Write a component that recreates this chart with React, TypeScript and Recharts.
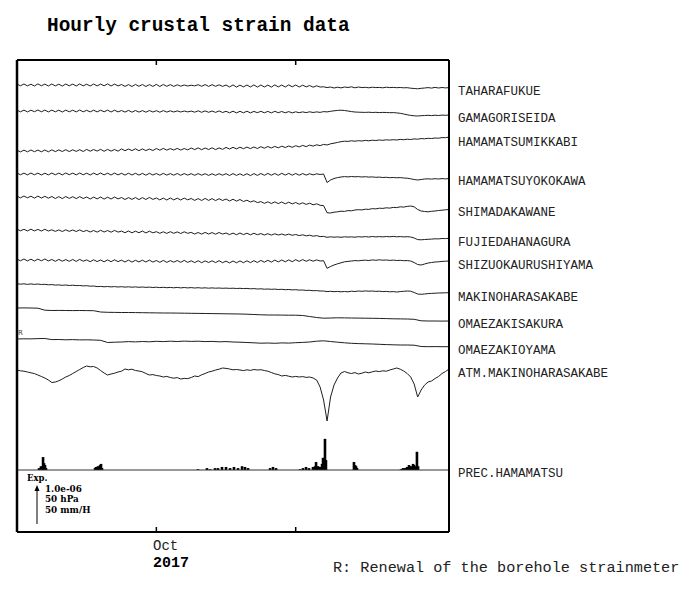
import { Bar, ComposedChart, Line, ReferenceLine, XAxis, YAxis } from "recharts";

// time axis: days since 2017-09-21 00:00 (ticks at Oct 1 and Oct 11)
const SPAN_DAYS = 31;
const TICK_DAYS = [10, 20];
const DAYS_6H = Array.from({ length: 125 }, (_, i) => i * 0.25);
const DAYS_12H = Array.from({ length: 63 }, (_, i) => i * 0.5);

const STATIONS = [
  "TAHARAFUKUE",
  "GAMAGORISEIDA",
  "HAMAMATSUMIKKABI",
  "HAMAMATSUYOKOKAWA",
  "SHIMADAKAWANE",
  "FUJIEDAHANAGURA",
  "SHIZUOKAURUSHIYAMA",
  "MAKINOHARASAKABE",
  "OMAEZAKISAKURA",
  "OMAEZAKIOYAMA",
  "ATM.MAKINOHARASAKABE",
];

// deviations (plot units, up = positive), sampled every 6 h
const taharafukue = [
  0.9, -0.8, 1.0, -0.9, 0.8, -1.0, 1.1, -0.8, 0.9, -1.0,
  1.0, -0.9, 0.8, -1.1, 1.0, -0.8, 0.9, -1.0, 1.1, -0.9,
  0.8, -1.0, 1.0, -0.9, 0.9, -0.8, 1.1, -1.0, 0.9, -0.9,
  0.5, -1.4, 0.4, -1.5, 0.6, -1.3, 0.5, -1.5, 0.4, -1.4,
  0.6, -1.5, 0.5, -1.3, 0.4, -1.4, 0.2, -1.2, 0.0, -1.0,
  -0.2, -0.9, 0.3, -1.3, 0.4, -1.4, 0.3, -1.3, 0.2, -1.4,
  0.0, -2.0, 0.1, -2.1, -0.1, -1.9, 0.0, -2.0, 0.1, -2.1,
  0.0, -2.0, -0.1, -2.1, 0.1, -1.9, 0.0, -2.0, 0.1, -1.8,
  0.0, -2.0, -0.2, -1.9, -0.5, -2.2, -0.8, -2.0, -1.8, -2.6,
  -2.0, -3.0, -2.2, -2.9, -2.0, -2.5, -1.8, -2.8, -2.0, -2.6,
  -2.3, -2.8, -2.2, -2.6, -2.4, -2.8, -2.2, -2.6, -2.4, -2.7,
  -2.5, -2.8, -2.7, -3.2, -3.5, -3.8, -3.3, -3.0, -2.6, -3.1,
  -2.4, -3.0, -2.5, -2.9, -2.6,
];
const gamagoriseida = [
  0.8, -0.8, 0.9, -0.9, 0.8, -0.7, 1.0, -0.8, 0.9, -0.9,
  0.9, -0.8, 0.8, -1.0, 0.9, -0.8, 0.8, -0.9, 1.0, -0.8,
  0.7, -0.9, 0.8, -0.9, 0.8, -0.8, 0.9, -1.0, 0.8, -0.9,
  0.5, -1.1, 0.6, -1.2, 0.5, -1.1, 0.4, -1.2, 0.5, -1.0,
  0.3, -1.2, 0.4, -1.1, 0.2, -1.0, 0.1, -1.0, 0.0, -0.9,
  -0.1, -1.2, 0.2, -1.3, 0.1, -1.3, 0.0, -1.4, 0.1, -1.5,
  -0.3, -1.8, -0.2, -1.9, -0.3, -1.8, -0.2, -1.9, -0.4, -1.7,
  -0.3, -1.8, -0.4, -1.9, -0.3, -1.7, -0.5, -1.8, -0.6, -1.9,
  -0.8, -1.7, -0.9, -1.6, -0.8, -1.5, -0.9, -1.4, -0.6, -0.9,
  -0.3, 0.2, 0.6, 0.8, 0.5, 0.0, -0.6, -1.0, -1.2, -1.3,
  -1.4, -1.2, -1.5, -1.3, -1.6, -1.4, -1.5, -1.7, -1.6, -1.9,
  -2.3, -3.0, -3.8, -4.4, -4.8, -5.0, -4.7, -4.5, -4.3, -4.6,
  -4.2, -4.5, -4.1, -4.3, -4.0,
];
const hamamatsumikkabi = [
  0.8, -0.9, 0.9, -0.8, 1.0, -0.7, 0.9, -0.8, 1.0, -0.8,
  1.2, -0.6, 1.1, -0.5, 1.3, -0.6, 1.2, -0.4, 1.3, -0.5,
  1.6, -0.2, 1.5, -0.1, 1.7, -0.3, 1.6, -0.1, 1.5, -0.2,
  2.1, 0.3, 2.0, 0.4, 2.2, 0.3, 2.1, 0.4, 2.0, 0.5,
  2.5, 0.8, 2.6, 0.9, 2.4, 1.0, 2.6, 0.9, 2.5, 1.1,
  3.0, 1.4, 3.1, 1.3, 3.0, 1.5, 3.2, 1.4, 3.1, 1.6,
  3.6, 2.0, 3.7, 2.1, 3.8, 2.3, 3.9, 2.4, 4.0, 2.5,
  4.3, 2.8, 4.5, 3.0, 4.6, 3.2, 4.8, 3.5, 5.0, 3.7,
  5.3, 4.1, 5.6, 4.4, 5.9, 4.9, 6.2, 5.4, 6.6, 6.0,
  7.2, 7.8, 8.6, 9.3, 9.8, 9.6, 10.2, 9.8, 10.3, 10.0,
  10.6, 10.2, 10.8, 10.5, 11.0, 10.7, 11.2, 10.9, 11.3, 11.0,
  11.6, 11.3, 11.8, 11.5, 12.1, 11.8, 12.4, 12.2, 12.7, 12.5,
  13.0, 12.8, 13.4, 13.3, 14.0,
];
const hamamatsuyokokawa = [
  1.0, -0.8, 0.9, -0.9, 1.0, -0.8, 0.9, -1.0, 0.8, -0.9,
  1.0, -0.8, 0.9, -0.9, 1.0, -0.7, 0.9, -0.9, 1.0, -0.8,
  0.8, -1.0, 0.9, -0.8, 1.0, -0.9, 0.8, -1.0, 0.9, -0.9,
  0.7, -1.1, 0.8, -1.0, 0.7, -1.1, 0.6, -1.2, 0.7, -1.0,
  0.5, -1.2, 0.6, -1.1, 0.4, -1.2, 0.5, -1.3, 0.4, -1.1,
  0.3, -1.3, 0.4, -1.2, 0.3, -1.4, 0.2, -1.3, 0.3, -1.2,
  0.3, -1.5, 0.4, -1.4, 0.2, -1.5, 0.3, -1.6, 0.4, -1.4,
  0.5, -1.3, 0.6, -1.2, 0.5, -1.3, 0.7, -1.1, 0.6, -1.2,
  0.5, -1.2, 0.4, -1.1, 0.3, -0.9, 0.2, -0.5, 0.0, -8.5,
  -6.0, -4.5, -3.6, -3.0, -2.6, -2.9, -2.5, -2.8, -2.6, -3.0,
  -2.7, -3.1, -2.9, -3.3, -3.1, -3.5, -3.3, -3.7, -3.5, -3.8,
  -3.6, -4.0, -4.2, -4.8, -5.5, -6.0, -5.5, -5.0, -4.8, -5.1,
  -4.7, -5.0, -4.6, -4.9, -4.5,
];
const shimadakawane = [
  0.9, -0.9, 1.0, -0.8, 0.8, -1.1, 0.9, -1.0, 0.7, -1.2,
  0.5, -1.5, 0.4, -1.6, 0.5, -1.4, 0.3, -1.6, 0.4, -1.5,
  0.0, -2.0, -0.1, -1.9, 0.0, -2.1, -0.2, -2.0, 0.0, -1.9,
  -0.5, -2.5, -0.6, -2.4, -0.5, -2.6, -0.6, -2.5, -0.4, -2.4,
  -1.0, -2.9, -1.1, -3.0, -1.0, -2.9, -1.2, -3.0, -1.1, -2.8,
  -1.5, -3.4, -1.6, -3.5, -1.4, -3.4, -1.6, -3.6, -1.7, -3.5,
  -2.0, -4.0, -2.2, -4.1, -2.5, -4.5, -3.2, -5.0, -3.8, -5.6,
  -4.6, -6.4, -4.8, -6.5, -4.9, -6.6, -5.0, -6.8, -5.2, -6.9,
  -5.5, -7.2, -5.8, -7.4, -6.2, -7.8, -6.8, -8.3, -8.6, -15.8,
  -16.0, -15.2, -14.8, -14.2, -14.4, -13.6, -13.8, -13.0, -12.7, -12.9,
  -12.2, -12.4, -11.6, -11.9, -11.2, -11.4, -10.8, -11.1, -10.4, -10.6,
  -9.8, -10.1, -9.4, -9.0, -9.8, -12.5, -14.0, -14.5, -14.8, -14.3,
  -14.0, -13.5, -13.2, -12.8, -12.5,
];
const fujiedahanagura = [
  0.8, -0.8, 0.7, -0.9, 0.8, -0.9, 0.6, -1.0, 0.7, -1.0,
  0.2, -1.4, 0.1, -1.5, 0.2, -1.4, 0.0, -1.5, 0.1, -1.6,
  -0.4, -2.0, -0.5, -2.1, -0.3, -2.0, -0.5, -2.2, -0.4, -2.1,
  -1.1, -2.7, -1.0, -2.8, -1.2, -2.7, -1.1, -2.9, -1.2, -2.8,
  -1.7, -3.3, -1.8, -3.4, -1.7, -3.3, -1.9, -3.5, -1.8, -3.3,
  -2.4, -4.0, -2.5, -4.1, -2.4, -4.0, -2.6, -4.2, -2.5, -4.1,
  -3.0, -4.6, -3.1, -4.7, -3.0, -4.6, -3.2, -4.8, -3.3, -4.7,
  -3.6, -5.0, -3.7, -5.1, -3.8, -5.0, -4.0, -5.2, -4.1, -5.3,
  -4.5, -5.6, -4.8, -5.9, -5.2, -6.2, -5.6, -6.6, -6.4, -7.3,
  -6.8, -7.2, -6.9, -7.3, -6.8, -7.1, -6.9, -7.2, -6.7, -7.0,
  -6.6, -7.0, -6.5, -6.9, -6.6, -6.9, -6.5, -6.8, -6.4, -6.8,
  -6.6, -6.9, -6.7, -7.0, -8.0, -9.6, -9.8, -9.5, -9.3, -9.1,
  -8.8, -8.9, -8.5, -8.6, -8.3,
];
const shizuokaurushiyama = [
  0.9, -0.8, 1.0, -0.9, 0.8, -1.0, 0.9, -0.8, 1.0, -0.9,
  0.5, -1.3, 0.6, -1.2, 0.4, -1.3, 0.5, -1.4, 0.6, -1.2,
  0.1, -1.7, 0.2, -1.6, 0.0, -1.8, 0.1, -1.7, 0.2, -1.6,
  -0.2, -2.0, -0.1, -2.1, -0.3, -1.9, -0.2, -2.0, -0.1, -2.1,
  -0.5, -2.3, -0.4, -2.4, -0.6, -2.2, -0.5, -2.3, -0.4, -2.4,
  -0.8, -2.6, -0.7, -2.7, -0.9, -2.5, -0.8, -2.6, -0.7, -2.7,
  -1.1, -2.9, -1.0, -2.8, -0.9, -2.7, -0.8, -2.6, -0.7, -2.5,
  -0.4, -2.2, -0.3, -2.1, -0.1, -1.9, 0.0, -1.8, 0.1, -1.7,
  0.3, -1.4, 0.4, -1.3, 0.2, -1.2, 0.1, -1.0, -0.7, -8.3,
  -6.5, -5.0, -3.8, -2.8, -1.8, -1.4, -1.0, -0.6, -0.8, -0.4,
  -0.2, -0.5, 0.1, -0.3, 0.2, -0.2, 0.0, -0.4, -0.1, -0.5,
  -0.3, -0.7, -0.6, -1.0, -2.5, -4.5, -5.0, -4.0, -3.0, -2.5,
  -2.0, -1.8, -1.4, -1.2, -1.0,
];
const makinoharasakabe = [
  0.3, -0.2, 0.2, -0.4, 0.1, -0.4, 0.0, -0.5, -0.3, -0.8,
  -0.6, -1.1, -0.9, -1.3, -1.0, -1.5, -1.2, -1.6, -1.5, -1.9,
  -1.7, -2.2, -2.0, -2.6, -2.4, -2.8, -2.5, -2.9, -2.6, -3.0,
  -2.7, -3.1, -2.8, -3.2, -2.9, -3.3, -3.0, -3.4, -3.1, -3.5,
  -3.2, -3.6, -3.3, -3.7, -3.4, -3.8, -3.4, -3.9, -3.5, -3.9,
  -3.6, -4.0, -3.7, -4.1, -3.8, -4.2, -3.9, -4.2, -4.0, -4.3,
  -4.1, -4.4, -4.2, -4.5, -4.3, -4.6, -4.4, -4.8, -4.6, -5.0,
  -4.8, -5.2, -5.0, -5.3, -5.1, -5.5, -5.3, -5.7, -5.5, -5.9,
  -5.7, -6.1, -6.0, -6.4, -6.3, -6.7, -6.6, -7.0, -7.0, -7.6,
  -7.3, -7.7, -7.4, -7.8, -7.5, -7.8, -7.2, -7.5, -7.0, -7.3,
  -6.9, -7.2, -7.0, -7.4, -7.2, -7.6, -7.4, -7.8, -7.6, -8.0,
  -7.6, -7.3, -7.0, -7.2, -8.5, -10.0, -10.3, -10.0, -9.6, -9.4,
  -9.2, -9.0, -8.9, -8.8, -8.7,
];
// sampled every 12 h
const omaezakisakura = [
  0.0, 0.1, 0.0, -0.2, -2.2, -2.5, -2.4, -2.5, -2.6, -2.5,
  -2.6, -2.7, -4.0, -4.3, -4.4, -4.5, -4.5, -4.6, -4.7, -4.8,
  -4.9, -5.0, -5.0, -5.1, -5.2, -5.3, -5.4, -5.5, -5.6, -5.7,
  -5.8, -5.9, -6.0, -6.2, -6.5, -6.8, -7.0, -7.0, -7.1, -7.2,
  -7.2, -7.5, -8.5, -9.5, -10.2, -10.0, -9.8, -9.9, -10.0, -10.1,
  -10.2, -10.3, -10.4, -10.6, -10.8, -10.9, -11.0, -11.3, -12.8, -13.0,
  -13.0, -13.1, -13.0,
];
const omaezakioyama = [
  0.0, 0.2, 0.1, 0.4, 0.5, -0.6, -0.5, -0.8, -0.6, -0.9,
  -0.8, -1.0, -1.3, -3.5, -3.2, -3.0, -2.6, -2.9, -2.5, -2.8,
  -2.3, -2.6, -2.2, -2.5, -2.1, -2.4, -2.2, -2.6, -2.4, -2.8,
  -2.6, -3.0, -3.2, -3.5, -3.8, -4.2, -4.0, -4.3, -3.9, -4.1,
  -3.7, -3.4, -3.0, -2.2, -1.8, -2.5, -3.2, -3.8, -4.3, -4.6,
  -4.8, -5.0, -5.3, -5.6, -5.8, -6.0, -6.0, -6.2, -7.5, -7.7,
  -7.6, -7.7, -7.7,
];
// pressure, every 6 h
const atmMakinohara = [
  0.0, -0.8, -1.2, -2.0, -2.8, -3.6, -5.0, -6.5, -8.0, -10.0,
  -12.5, -12.0, -10.8, -9.0, -7.0, -5.5, -3.5, -1.5, 0.5, 2.5,
  4.0, 3.2, 3.5, 2.0, -0.5, -3.0, -5.0, -4.0, -3.2, -2.0,
  -1.2, 1.0, 0.2, 0.8, -0.5, -1.0, -1.8, -3.5, -5.0, -4.6,
  -5.5, -6.0, -7.0, -6.4, -7.5, -8.2, -7.6, -9.0, -8.4, -8.6,
  -7.5, -6.0, -6.6, -4.8, -3.5, -2.0, -1.2, 0.0, 0.8, 2.0,
  1.6, 1.0, 0.2, 0.5, 0.0, -0.6, 0.2, -0.4, 0.5, 0.0,
  0.3, -0.5, -1.2, -2.5, -3.8, -4.6, -6.0, -5.4, -6.2, -7.0,
  -6.4, -7.0, -6.6, -7.4, -7.0, -8.0, -10.0, -17.0, -30.0, -51.0,
  -27.0, -15.0, -8.0, -3.0, -1.5, -2.8, -3.5, -2.6, -4.0, -3.2,
  -2.0, -2.8, -1.8, -1.0, -1.6, -0.8, -1.2, 0.0, 1.0, 2.0,
  0.8, -1.0, -3.5, -7.0, -14.0, -27.0, -20.0, -15.0, -12.0, -11.0,
  -8.5, -6.5, -3.5, -1.5, 1.0,
];

const SERIES = [
  { values: taharafukue, days: DAYS_6H },
  { values: gamagoriseida, days: DAYS_6H },
  { values: hamamatsumikkabi, days: DAYS_6H },
  { values: hamamatsuyokokawa, days: DAYS_6H },
  { values: shimadakawane, days: DAYS_6H },
  { values: fujiedahanagura, days: DAYS_6H },
  { values: shizuokaurushiyama, days: DAYS_6H },
  { values: makinoharasakabe, days: DAYS_6H },
  { values: omaezakisakura, days: DAYS_12H },
  { values: omaezakioyama, days: DAYS_12H },
  { values: atmMakinohara, days: DAYS_6H },
];

// precipitation at Hamamatsu (mm/H)
const precDays = [
  1.58, 1.72, 1.87, 1.94, 2.01, 2.08,
  5.6, 5.67, 5.81, 5.88, 5.96, 6.03, 6.1,
  12.99, 13.63, 13.85, 14.21, 14.42, 14.71, 15.0, 15.29, 15.57, 15.86, 16.15, 16.36, 16.58,
  18.16, 18.37, 18.59,
  20.31, 20.52, 20.74, 20.95, 21.24, 21.39, 21.46, 21.6, 21.74, 21.89, 21.96, 22.03, 22.1, 22.17,
  24.18, 24.26, 24.33, 24.4,
  27.56, 27.7, 27.84, 27.99, 28.13, 28.27, 28.42, 28.49, 28.63, 28.7, 28.78,
];
const precMm = [
  2.5, 5, 17, 9, 6.5, 2.5,
  2.5, 4, 5, 4, 6.5, 8, 2.5,
  1, 2.5, 1, 2.5, 2.5, 4, 4, 2.5, 4, 2.5, 5, 4, 2.5,
  2.5, 4, 2.5,
  1, 2.5, 4, 2.5, 4, 5, 10.5, 5, 4, 8, 16, 16, 41, 13,
  10.5, 6.5, 5, 2.5,
  1, 2.5, 2.5, 4, 6.5, 5, 8, 6.5, 5, 24, 5,
];

// layout (plot units: 0 = bottom of frame, 472 = top)
const Y_TOP = 472;
const TRACE_LEVELS = [447, 421, 381, 358, 335, 302, 272, 248, 224, 193, 162];
const PREC_LEVEL = 62;
const MM_SCALE = 0.76;
const LABEL_Y = [91.5, 118.5, 142.5, 181.5, 212.5, 242.5, 265.5, 297.5, 324.5, 350.5, 373.5];

const precRows = precDays.map((d, i) => ({ d, mm: precMm[i] }));
const traceRows = SERIES.map((s, k) =>
  s.values.map((v, i) => ({ d: s.days[i], v: v + TRACE_LEVELS[k] }))
);

const mono =
  '"Nimbus Mono PS", "Nimbus Mono L", "Courier New", Courier, FreeMono, "Liberation Mono", monospace';
const serif = '"DejaVu Serif", serif';

const txt = (top: number, left: number, extra: React.CSSProperties = {}) =>
  ({
    position: "absolute",
    top,
    left,
    transform: "translateY(-50%)",
    whiteSpace: "nowrap",
    lineHeight: 1,
    color: "#222",
    ...extra,
  }) as React.CSSProperties;

const PrecBar = (p: any) => {
  const { x, y, width, height } = p;
  if (!height) return null;
  const top = height < 0 ? y + height : y;
  return <rect x={x + width / 2 - 1.3} y={top} width={2.6} height={Math.abs(height)} fill="#000" />;
};

export default function App() {
  return (
    <div style={{ position: "absolute", left: 0, top: 0, width: 700, height: 590, background: "#fff" }}>
      <ComposedChart
        width={700}
        height={590}
        data={precRows}
        margin={{ top: 60, right: 251, bottom: 58, left: 17 }}
      >
        <XAxis type="number" dataKey="d" domain={[0, SPAN_DAYS]} hide allowDataOverflow />
        <YAxis type="number" domain={[0, Y_TOP]} hide allowDataOverflow />
        <ReferenceLine y={PREC_LEVEL} stroke="#333" strokeWidth={1} />
        {TICK_DAYS.map((t) => (
          <ReferenceLine
            key={"tt" + t}
            segment={[
              { x: t, y: Y_TOP },
              { x: t, y: Y_TOP - 5 },
            ]}
            stroke="#000"
            strokeWidth={1.5}
          />
        ))}
        {TICK_DAYS.map((t) => (
          <ReferenceLine
            key={"tb" + t}
            segment={[
              { x: t, y: 0 },
              { x: t, y: 5 },
            ]}
            stroke="#000"
            strokeWidth={1.5}
          />
        ))}
        <Bar
          dataKey={(r: { mm: number }) => [PREC_LEVEL, PREC_LEVEL + r.mm * MM_SCALE]}
          fill="#000"
          shape={PrecBar}
          isAnimationActive={false}
        />
        {traceRows.map((rows, k) => (
          <Line
            key={STATIONS[k]}
            data={rows}
            dataKey="v"
            type="linear"
            dot={false}
            stroke="#1e1e1e"
            strokeWidth={1}
            isAnimationActive={false}
          />
        ))}
        <ReferenceLine x={0} stroke="#000" strokeWidth={2.5} />
        <ReferenceLine x={SPAN_DAYS} stroke="#000" strokeWidth={2} />
        <ReferenceLine y={0} stroke="#000" strokeWidth={2} />
        <ReferenceLine y={Y_TOP} stroke="#000" strokeWidth={2} />
      </ComposedChart>

      <div style={txt(26.5, 47, { fontFamily: mono, fontWeight: "bold", fontSize: 19.4, color: "#000" })}>
        Hourly crustal strain data
      </div>
      {STATIONS.map((s, k) => (
        <div key={s} style={txt(LABEL_Y[k], 458, { fontFamily: mono, fontSize: 12.5 })}>
          {s}
        </div>
      ))}
      <div style={txt(473.5, 458, { fontFamily: mono, fontSize: 12.5 })}>PREC.HAMAMATSU</div>
      <div style={txt(333, 18, { fontFamily: '"DejaVu Sans", sans-serif', fontSize: 7, color: "#444" })}>R</div>
      <div style={txt(546, 153, { fontFamily: mono, fontSize: 14 })}>Oct</div>
      <div style={txt(563, 153, { fontFamily: mono, fontSize: 15, fontWeight: "bold", color: "#000" })}>2017</div>
      <div style={txt(569, 333, { fontFamily: mono, fontSize: 15.2 })}>
        R: Renewal of the borehole strainmeter
      </div>
      <div style={txt(478, 27, { fontFamily: serif, fontSize: 8.5, fontWeight: "bold", color: "#000" })}>Exp.</div>
      <div style={txt(489, 45, { fontFamily: serif, fontSize: 8.8, fontWeight: "bold", color: "#000" })}>1.0e-06</div>
      <div style={txt(499, 45, { fontFamily: serif, fontSize: 8.8, fontWeight: "bold", color: "#000" })}>50 hPa</div>
      <div style={txt(510, 45, { fontFamily: serif, fontSize: 8.8, fontWeight: "bold", color: "#000" })}>50 mm/H</div>
      <svg style={{ position: "absolute", left: 33, top: 484 }} width={8} height={42}>
        <line x1={4} y1={4} x2={4} y2={40} stroke="#000" strokeWidth={1} />
        <path d="M1.5,7 L4,1 L6.5,7 Z" fill="#000" />
      </svg>
    </div>
  );
}
